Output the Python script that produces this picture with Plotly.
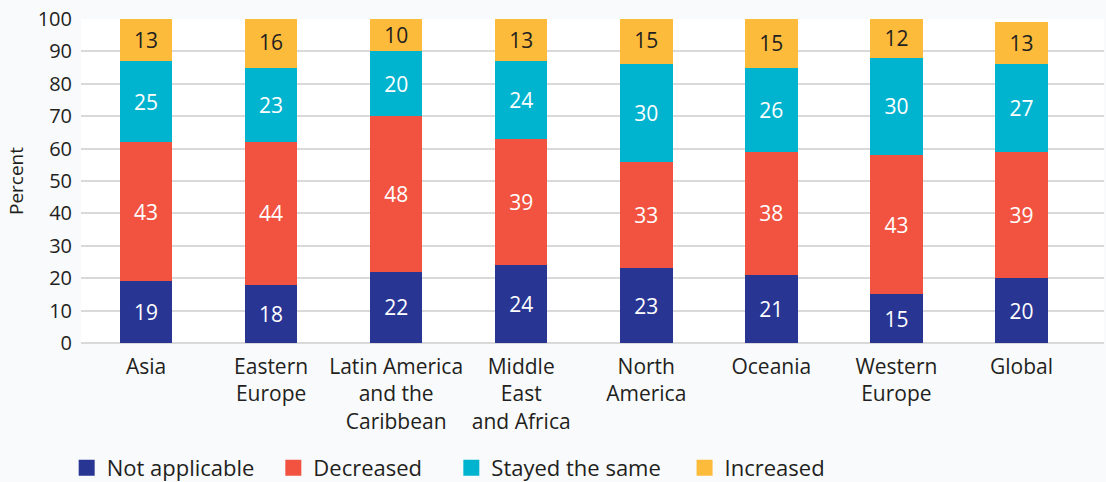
import plotly.graph_objects as go

regions = ["Asia", "Eastern<br>Europe", "Latin America<br>and the<br>Caribbean",
           "Middle<br>East<br>and Africa", "North<br>America", "Oceania",
           "Western<br>Europe", "Global"]

not_applicable = [19, 18, 22, 24, 23, 21, 15, 20]
decreased = [43, 44, 48, 39, 33, 38, 43, 39]
stayed_same = [25, 23, 20, 24, 30, 26, 30, 27]
increased = [13, 16, 10, 13, 15, 15, 12, 13]

y_ticks = [0, 10, 20, 30, 40, 50, 60, 70, 80, 90, 100]

FONT = "Open Sans"
SIZE = 21
INK = "#231f20"

series = [
    ("Not applicable", not_applicable, "#283593", "white"),
    ("Decreased", decreased, "#f15340", "white"),
    ("Stayed the same", stayed_same, "#00b4d0", "white"),
    ("Increased", increased, "#fdbb3b", INK),
]

# horizontal placement of each legend entry (paper x)
legend_x = [-0.014, 0.188, 0.362, 0.590]
legend_ids = ["legend", "legend2", "legend3", "legend4"]

fig = go.Figure()
for (name, vals, color, tcolor), lid in zip(series, legend_ids):
    fig.add_trace(go.Bar(
        x=list(range(len(regions))), y=vals, name=name,
        marker=dict(color=color, line=dict(width=0)),
        width=0.42,
        text=vals, texttemplate="%{text}",
        textposition="inside", insidetextanchor="middle",
        textangle=0,
        textfont=dict(family=FONT, size=SIZE, color=tcolor),
        showlegend=False, hoverinfo="skip",
    ))
    # square legend swatch
    fig.add_trace(go.Scatter(
        x=[None], y=[None], mode="markers", name=name, legend=lid,
        marker=dict(symbol="square", size=16, color=color),
    ))

legend_style = dict(orientation="h", xanchor="left", y=-0.386, yanchor="middle",
                    font=dict(family=FONT, size=SIZE + 1, color=INK),
                    itemwidth=30, bgcolor="rgba(0,0,0,0)")
layout_legends = {lid: dict(x=lx, **legend_style) for lid, lx in zip(legend_ids, legend_x)}

fig.update_layout(
    barmode="stack",
    width=1106, height=482,
    margin=dict(l=81, r=2, t=19, b=139, autoexpand=False),
    paper_bgcolor="#f9fafc",
    plot_bgcolor="white",
    font=dict(family=FONT, size=SIZE, color=INK),
    uniformtext=dict(minsize=SIZE, mode="show"),
    **layout_legends,
)
fig.update_xaxes(
    range=[-0.52, 7.66], automargin=False,
    tickmode="array", tickvals=list(range(len(regions))), ticktext=regions,
    showgrid=False, zeroline=False, showline=False, ticks="",
    ticklabelstandoff=9,
    tickfont=dict(family=FONT, size=SIZE, color=INK),
)
fig.update_yaxes(
    range=[0, 100], tickvals=y_ticks, automargin=False,
    showgrid=True, gridcolor="#d9d9d9", gridwidth=1.5,
    zeroline=True, zerolinecolor="#d9d9d9", zerolinewidth=1.5,
    ticks="", ticklabelstandoff=8,
    tickfont=dict(family=FONT, size=SIZE - 1, color=INK),
    title=dict(text="Percent", font=dict(family=FONT, size=SIZE - 2, color=INK), standoff=9),
)

fig.write_html("out.html")
